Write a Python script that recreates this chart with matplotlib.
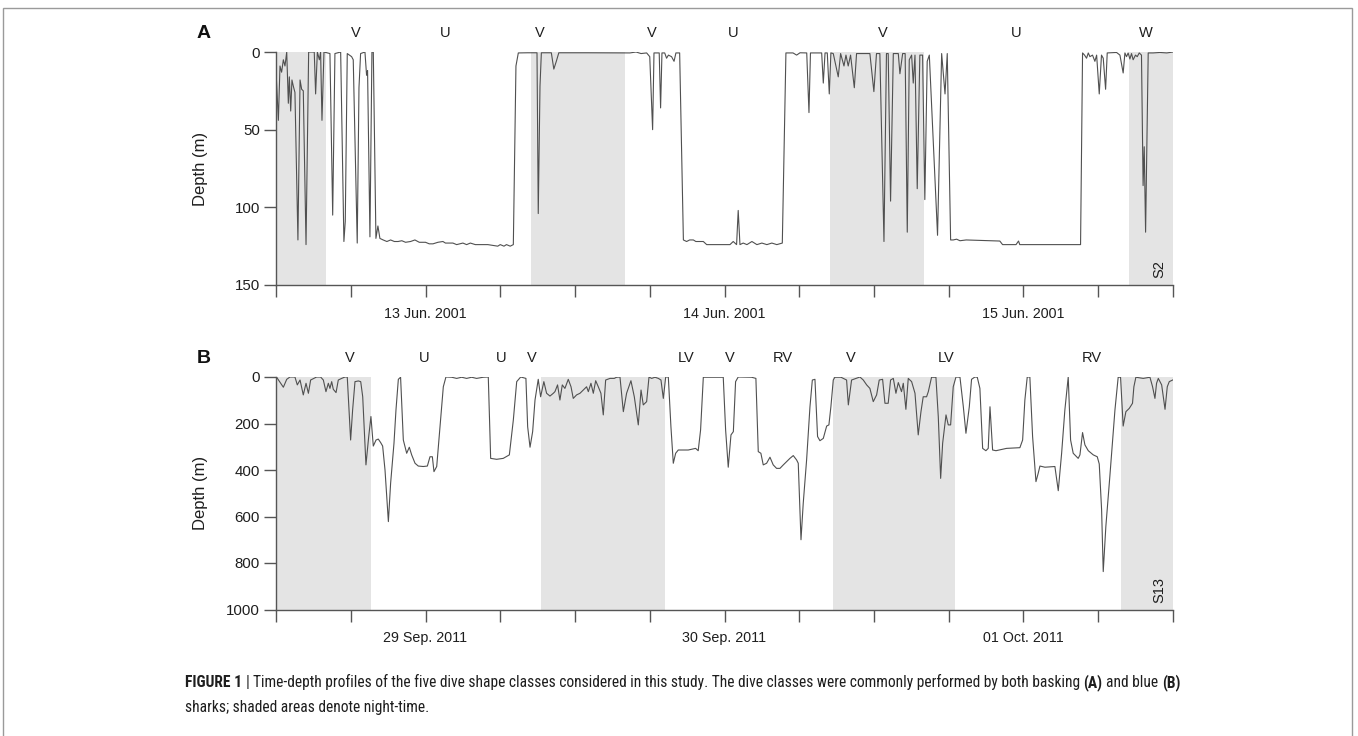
import numpy as np
import matplotlib
matplotlib.use("Agg")
import matplotlib.pyplot as plt
import matplotlib.transforms as mtransforms
from matplotlib import font_manager

plt.rcParams['font.family'] = ['Liberation Sans', 'DejaVu Sans']

# ---- panel A: basking shark S2, hours from 13 Jun 2001 00:00, depth in m
a_hours = [0.00, 0.19, 0.32, 0.45, 0.59, 0.72, 0.86, 0.99, 1.07, 1.18, 1.28, 1.39, 1.52, 1.76,
           1.93, 2.06, 2.19, 2.41, 2.62, 3.07, 3.18, 3.32, 3.48, 3.58, 3.69, 3.85, 4.33, 4.55,
           4.73, 5.19, 5.45, 5.56, 5.72, 6.07, 6.20, 6.52, 6.66, 6.79, 7.14, 7.27, 7.35, 7.54,
           7.70, 7.81, 8.02, 8.18, 8.34,
           8.6, 8.9, 9.2, 9.5, 9.8, 10.1, 10.4, 10.8, 11.15, 11.5, 12.0, 12.3, 12.6, 13.0, 13.4,
           13.6, 14.2, 14.5, 15.0, 15.3, 15.6, 16.0, 17.0, 17.8, 18.0, 18.3, 18.5, 18.8, 19.05,
           19.26, 19.45, 20.2, 20.95, 21.05, 21.19, 21.3, 22.1, 22.3, 22.5, 22.7, 25.0, 28.41,
           28.9, 29.3, 29.75, 30.0, 30.23, 30.34, 30.76, 30.87, 30.98, 31.2, 31.35, 31.5, 31.75,
           31.95, 32.1, 32.4, 32.7, 32.96, 33.2, 33.5, 33.7, 34.3, 34.57, 34.8, 36.44, 36.7,
           36.97, 37.1, 37.24, 37.5, 37.8, 38.2, 38.6, 39.0, 39.4, 39.8, 40.2, 40.64, 40.93,
           41.5, 41.79, 42.06, 42.6, 42.78, 42.9, 43.8, 43.93, 44.07, 44.25, 44.41, 44.54,
           44.73, 45.13, 45.32, 45.59, 45.75, 45.93, 46.12, 46.42, 46.6, 47.67, 47.99, 48.2,
           48.47, 48.8, 49.0, 49.14, 49.33, 49.55, 49.95, 50.08, 50.3, 50.5, 50.67, 50.83,
           51.02, 51.15, 51.29, 51.47, 51.68, 51.9, 52.08, 52.27, 52.44, 53.1, 53.43, 53.7,
           53.88, 54.15, 54.36, 54.63, 54.9, 55.4, 58.1, 58.32, 59.4, 59.6, 59.7, 64.58,
           64.74, 64.9, 65.06, 65.2, 65.33, 65.54, 65.73, 65.87, 66.08, 66.26, 66.4, 66.59,
           66.72, 67.47, 67.74, 68.0, 68.14, 68.27, 68.4, 68.54, 68.67, 68.8, 68.99, 69.13,
           69.29, 69.47, 69.6, 69.69, 69.8, 70.01, 70.4, 70.95, 71.5, 72.0]
a_depth = [12, 44, 9, 13, 5, 9, 0, 33, 16, 38, 18, 22, 26, 121,
           18, 24, 25, 124, 0, 0, 27, 0, 5, 0, 44, 0, 1, 105,
           1, 0, 122, 109, 1, 3, 5, 123, 23, 1, 0, 15, 12, 119,
           0, 0, 120, 112, 120,
           121, 122, 121, 122, 122, 121.5, 122.5, 122, 121, 122.5, 122.5, 123.5, 123.5, 122.5, 122,
           123, 123, 124, 123, 124, 123, 124, 124, 125, 124, 125, 124, 125, 124,
           9, 0.6, 0.5, 0.5, 104, 22, 0.5, 0.5, 11, 6, 0.5, 0.5, 0.6,
           0, 1, 0.6, 3, 50, 0.6, 0.6, 36, 0.6, 0.6, 4, 2, 3,
           6, 0.6, 0.6, 121, 122, 121, 121, 122, 122, 124, 124, 124, 122,
           124, 102, 124, 123, 124, 122, 124, 123, 124, 123, 124, 123, 0.6,
           0.6, 2, 0.5, 0.6, 39, 0.6, 0.6, 20, 0.6, 0.6, 27, 0.6,
           1, 16, 1, 9, 2, 9, 2, 23, 1, 1, 25.5, 1,
           1, 122, 1, 1, 96, 1, 1, 14, 1, 1, 116, 5,
           2, 20, 2, 88, 2, 2, 95, 6, 2, 118, 1, 27,
           1, 121, 121, 120.5, 121.5, 121, 121.7, 124, 124, 121.7, 124, 124,
           0.6, 2, 4, 0.6, 3, 2, 6, 2, 27, 2, 4, 24,
           0.6, 0.3, 2, 13.5, 0.6, 3, 0.6, 4.5, 1, 5, 2, 3,
           0.6, 2, 86, 61, 116, 0.6, 0.6, 0.3, 0.6, 0]

# ---- panel B: blue shark S13, hours from 29 Sep 2011 00:00, depth in m
b_hours = [0.05, 0.59, 0.86, 1.12, 1.52, 1.71, 1.93, 2.19, 2.41, 2.6, 2.78, 3.26, 3.58, 3.8,
           4.01, 4.2, 4.33, 4.47, 4.6, 4.82, 5.0, 5.27, 5.54, 5.72, 5.99, 6.15, 6.34, 6.61,
           6.8, 6.96, 7.22, 7.44, 7.62, 7.81, 8.03, 8.21, 8.4, 8.56, 8.75, 9.02, 9.2, 9.47,
           9.63, 9.82, 10.0, 10.22, 10.49, 10.7, 10.89, 11.16, 11.42, 11.82, 12.15, 12.36,
           12.55, 12.68, 12.9, 13.16, 13.43, 13.64, 14.1, 14.5, 14.9, 15.3, 15.7, 16.1, 16.64,
           17.04, 17.23, 17.71, 18.24, 18.57, 18.73, 19.05, 19.32, 19.64, 20.06, 20.2, 20.39,
           20.6, 20.79, 21.05, 21.24, 21.5, 21.72, 21.99, 22.26,
           22.39, 22.6, 22.79, 22.98, 23.19, 23.46, 23.68, 23.86, 24.13, 24.4, 24.67, 24.93,
           25.07, 25.28, 25.47, 25.66, 25.87, 26.08, 26.27, 26.46, 26.81, 27.15, 27.34, 27.61,
           27.88, 28.14, 28.49, 28.76, 29.08, 29.3, 29.48, 29.75, 29.94, 30.15, 30.42, 30.69,
           30.9, 31.09, 31.28, 31.49, 31.7, 31.89, 32.08, 32.29, 33.09, 33.68, 33.89, 34.08,
           34.3, 35.23, 35.9, 36.09, 36.3, 36.52, 36.71, 36.89, 37.1, 38.17, 38.52, 38.71,
           38.92, 39.11, 39.38, 39.65, 39.91, 40.18, 40.45, 40.72, 40.99, 41.25, 41.52, 41.79,
           41.92, 42.14, 42.32, 42.59, 42.86, 43.05, 43.26, 43.47, 43.66, 43.93, 44.2, 44.38,
           44.54, 44.73, 44.86, 45.35, 45.8, 45.94, 46.2, 46.87,
           47.14, 47.41, 47.67, 47.94, 48.21, 48.42, 48.69, 48.88, 49.14, 49.33, 49.55, 49.76,
           49.95, 50.21, 50.35, 50.56, 50.75, 51.02, 51.29, 51.55, 51.77, 51.95, 52.22, 52.36,
           52.62, 52.97, 53.16, 53.35, 53.51, 53.78, 53.96, 54.15, 54.36, 54.58, 54.9, 55.17,
           55.38, 55.65, 55.83, 56.1, 56.29, 56.5, 56.72, 56.98, 57.17, 57.31, 57.52, 57.79,
           58.64, 59.71, 59.93, 60.11, 60.3, 60.51, 60.73, 61.0, 61.18, 61.32, 61.72, 62.52,
           62.79, 63.06, 63.32, 63.59, 63.78, 63.99, 64.39, 64.53, 64.74, 64.93, 65.2, 65.6,
           65.92, 66.08, 66.27, 66.4, 66.61, 66.93, 67.34, 67.6, 67.79, 68.0, 68.22, 68.49,
           68.75, 68.86, 69.02, 69.61, 70.15, 70.36, 70.55, 70.68, 70.82, 71.09, 71.36, 71.54,
           71.7, 71.97]
b_depth = [1, 44, 10, 0, 0, 34, 13, 77, 27, 70, 13, 0, 0, 13,
           63, 27, 49, 20, 53, 67, 13, 6, 0, 0, 271, 142, 20, 17,
           20, 85, 378, 257, 170, 297, 271, 267, 282, 297, 400, 622, 457, 285,
           142, 10, 1, 271, 328, 302, 335, 371, 383, 385, 383, 343,
           343, 407, 385, 214, 42, 0, 1, 6, 1, 6, 1, 6, 1,
           0, 350, 354, 350, 340, 335, 185, 20, 0, 6, 214, 302,
           235, 99, 10, 85, 20, 70, 82, 70,
           63, 34, 99, 34, 49, 10, 42, 92, 77, 70, 56, 42,
           63, 27, 70, 16, 42, 70, 163, 13, 6, 6, 1, 0,
           149, 70, 16, 85, 206, 56, 120, 106, 0, 6, 1, 6,
           13, 92, 0, 0, 214, 371, 328, 314, 314, 307, 317, 228,
           1, 1, 1, 228, 388, 249, 235, 20, 0, 1, 6, 321,
           328, 378, 371, 345, 378, 393, 393, 378, 364, 350, 338, 357,
           371, 700, 543, 357, 128, 13, 10, 256, 274, 264, 211, 206,
           128, 13, 1, 1, 13, 120, 13, 0,
           13, 34, 49, 106, 77, 13, 10, 113, 113, 13, 6, 70,
           24, 63, 27, 139, 6, 20, 70, 249, 149, 85, 85, 63,
           1, 1, 171, 436, 285, 163, 206, 206, 42, 0, 1, 128,
           242, 128, 10, 0, 1, 49, 307, 317, 307, 128, 314, 317,
           307, 304, 271, 99, 0, 0, 256, 450, 414, 383, 388, 385,
           489, 328, 142, 0, 271, 328, 350, 335, 239, 292, 317, 335,
           343, 374, 572, 837, 643, 428, 142, 1, 1, 211, 149, 135,
           113, 42, 1, 6, 1, 42, 92, 27, 6, 34, 139, 42,
           20, 13]

a_nights = [(0.0, 4.0), (20.45, 28.0), (44.5, 52.0), (68.45, 72.0)]
b_nights = [(0.0, 7.6), (21.3, 31.2), (44.7, 54.5), (67.8, 72.0)]

a_class_pos = [6.4, 13.6, 21.2, 30.2, 36.7, 48.7, 59.4, 69.8]
a_class_lab = ["V", "U", "V", "V", "U", "V", "U", "W"]
b_class_pos = [5.95, 11.9, 18.1, 20.5, 32.9, 36.4, 40.7, 46.1, 53.8, 65.5]
b_class_lab = ["V", "U", "U", "V", "LV", "V", "RV", "V", "LV", "RV"]

a_dates = ["13 Jun. 2001", "14 Jun. 2001", "15 Jun. 2001"]
b_dates = ["29 Sep. 2011", "30 Sep. 2011", "01 Oct. 2011"]
a_yticks = [0, 50, 100, 150]
b_yticks = [0, 200, 400, 600, 800, 1000]

W, H = 1358, 736
fig = plt.figure(figsize=(W / 100, H / 100), dpi=100)

line_col = '#505050'
axis_col = '#555555'
night_col = '#e4e4e4'
text_col = '#1e1e1e'


def draw_panel(rect, hours, depth, nights, cpos, clab, dates, yticks, letter, tag):
    ax = fig.add_axes(rect)
    for n0, n1 in nights:
        ax.axvspan(n0, n1, color=night_col, lw=0, zorder=0)
    ax.plot(hours, depth, color=line_col, lw=0.8, zorder=2)
    ax.set_xlim(0, 72)
    ax.set_ylim(yticks[-1], 0)
    ax.set_yticks(yticks)
    ticks = np.arange(0, 73, 6)
    ax.set_xticks(ticks)
    labels = [""] * len(ticks)
    labels[2], labels[6], labels[10] = dates
    ax.set_xticklabels(labels, fontsize=10.3)
    for s in ['top', 'right']:
        ax.spines[s].set_visible(False)
    for s in ['left', 'bottom']:
        ax.spines[s].set_color(axis_col)
        ax.spines[s].set_linewidth(1.0)
    ax.tick_params(axis='both', direction='out', length=8.5, width=1.0,
                   color=axis_col, labelcolor=text_col)
    ax.tick_params(axis='x', pad=7)
    ax.tick_params(axis='y', pad=3, labelsize=10.8)
    ax.set_ylabel("Depth (m)", fontsize=12, color=text_col)
    ax.yaxis.set_label_coords(-0.084, 0.5)
    ax.yaxis.label.set_va('center')
    trans = mtransforms.blended_transform_factory(ax.transData, ax.transAxes)
    for p, l in zip(cpos, clab):
        ax.text(p, 1.08, l, transform=trans, ha='center', va='center',
                fontsize=10.5, color=text_col)
    ax.text(-0.081, 1.08, letter, transform=ax.transAxes, ha='center', va='center',
            fontsize=14, fontweight='bold', color='#111111')
    ax.text(0.993, 0.03, tag, transform=ax.transAxes, rotation=90, ha='right',
            va='bottom', fontsize=10.5, color=text_col)
    return ax


draw_panel([276 / W, 1 - 285 / H, 897 / W, 233 / H], a_hours, a_depth, a_nights,
           a_class_pos, a_class_lab, a_dates, a_yticks, "A", "S2")
draw_panel([276 / W, 1 - 609.5 / H, 897 / W, 232.5 / H], b_hours, b_depth, b_nights,
           b_class_pos, b_class_lab, b_dates, b_yticks, "B", "S13")

# outer frame
frame = plt.Rectangle((2.5 / W, -0.02), 1349.5 / W, 1.02 - 7.5 / H, transform=fig.transFigure,
                      fill=False, edgecolor='#9a9a9a', lw=1.0)
fig.patches.append(frame)

# caption, in a narrow face when one is installed
names = {f.name for f in font_manager.fontManager.ttflist}
cap_font = 'Liberation Sans'
for cand in ['Liberation Sans Narrow', 'DejaVu Sans Condensed', 'Roboto Condensed',
             'Open Sans Condensed', 'Noto Sans Condensed']:
    if cand in names:
        cap_font = cand
        break
line1 = [("FIGURE 1", 'bold'), ("|", 'normal'),
         ("Time-depth profiles of the five dive shape classes considered in this study. "
          "The dive classes were commonly performed by both basking", 'normal'),
         ("(A)", 'bold'), ("and blue", 'normal'), ("(B)", 'bold')]
line2 = "sharks; shaded areas denote night-time."

fig.canvas.draw()
r = fig.canvas.get_renderer()


def width_of(s, size, weight='normal'):
    t = fig.text(0, 0, s, fontsize=size, fontweight=weight, family=cap_font)
    w = t.get_window_extent(r).width
    t.remove()
    return w


base = 10.0
space = width_of("a a", base) - width_of("aa", base)
total = sum(width_of(s, base, wt) for s, wt in line1) + space * (len(line1) - 1)
size = base * (1177 - 185) / total
space = space * size / base

x = 185.0
for s, wt in line1:
    t = fig.text(x / W, 1 - 687 / H, s, fontsize=size, fontweight=wt, family=cap_font,
                 va='baseline', color=text_col)
    x = t.get_window_extent(r).x1 + space
fig.text(185 / W, 1 - 712 / H, line2, fontsize=size, family=cap_font, va='baseline',
         color=text_col)

fig.savefig("out.png", dpi=100)
